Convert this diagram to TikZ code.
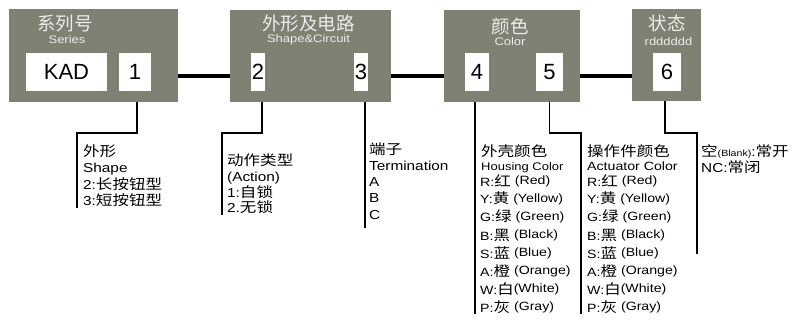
\documentclass[tikz,border=0pt]{standalone}
\usepackage{fontspec}
\setmainfont{Liberation Sans}[FakeStretch=1.18]
\newfontfamily\numfont{Liberation Sans}
\newfontfamily\cjk{Noto Sans CJK SC}[FakeStretch=1.18]
\newfontfamily\cjktitle{Noto Sans CJK SC}
\newcommand{\zh}[1]{{\cjk\fontsize{14}{14}\selectfont #1}}
\newcommand{\en}[1]{\raisebox{1.5pt}{#1}}
\definecolor{boxgray}{RGB}{128,128,115}
\definecolor{titlegray}{RGB}{236,236,236}

\begin{document}
\begin{tikzpicture}[x=1pt,y=-1pt,
  group/.style={fill=boxgray, inner sep=0pt},
  title/.style={text=titlegray, inner sep=0pt, font=\fontsize{18.5}{18.5}\cjktitle},
  sub/.style={text=titlegray, inner sep=0pt, font=\fontsize{11}{11}\selectfont},
  num/.style={fill=white, inner sep=0pt, minimum height=38pt, font=\fontsize{22}{22}\numfont},
  link/.style={line width=3.5pt},
  lead/.style={line width=1.6pt},
  item/.style={anchor=base west, inner sep=0pt, font=\fontsize{13}{13}\selectfont},
  row/.style={item, font=\fontsize{12}{12}\selectfont}]

\useasboundingbox (0,0) rectangle (791,320);

% groups
\node[group, minimum width=169pt, minimum height=93pt] (series) at (93.5,55.5) {};
\node[group, minimum width=161pt, minimum height=92pt] (shape) at (310.5,56) {};
\node[group, minimum width=136pt, minimum height=92pt] (color) at (512,56) {};
\node[group, minimum width=69pt, minimum height=92pt] (state) at (666.5,55) {};

\node[title] (seriesZh) at (65,24) {系列号};
\node[sub] (seriesEn) at (67,40) {Series};
\node[title] (shapeZh) at (308.5,24) {外形及电路};
\node[sub] (shapeEn) at (308.5,40) {Shape\&Circuit};
\node[title] (colorZh) at (510,26) {颜色};
\node[sub] (colorEn) at (510,42) {Color};
\node[title] (stateZh) at (667,23.5) {状态};
\node[sub] (stateEn) at (668.5,42) {rdddddd};

% code fields
\node[num, minimum width=81pt] (kad) at (66.5,72) {KAD};
\node[num, minimum width=32pt] (n1) at (135,72) {1};
\node[num, minimum width=14pt] (n2) at (258,72) {2};
\node[num, minimum width=14pt] (n3) at (361,72) {3};
\node[num, minimum width=24pt] (n4) at (477,72) {4};
\node[num, minimum width=27pt] (n5) at (549.5,72) {5};
\node[num, minimum width=28pt] (n6) at (667,72) {6};

\coordinate (bus) at (0,76);
\draw[link] (series.east |- bus) -- (shape.west |- bus);
\draw[link] (shape.east |- bus) -- (color.west |- bus);
\draw[link] (color.east |- bus) -- (state.west |- bus);

% lead lines
\coordinate (shapeEnd) at (77,208);
\coordinate (actionEnd) at (222,215);
\coordinate (termEnd) at (365,228);
\coordinate (houseEnd) at (475,314);
\coordinate (actEnd) at (581,314);
\coordinate (stateEnd) at (697,254);

\draw[lead] ([xshift=2pt]n1.south |- series.south) -- ++(0,31) -| (shapeEnd);
\draw[lead] ([xshift=4pt]n2.south |- shape.south) -- ++(0,31) -| (actionEnd);
\draw[lead] ([xshift=4pt]n3.south |- shape.south) -- (termEnd);
\draw[lead] ([xshift=-2pt]n4.south |- color.south) -- (houseEnd);
\draw[lead] (n5.south |- color.south) -- ++(0,31) -| (actEnd);
\draw[lead] ([xshift=-2pt]n6.south |- state.south) -- ++(0,32) -| (stateEnd);

% texts
\foreach \t [count=\i] in {{\zh{外形}}, Shape, 2:\zh{长按钮型}, 3:\zh{短按钮型}}
  \node[item] (shapeTxt\i) at (83,140+16.5*\i) {\t};

\foreach \t [count=\i] in {{\zh{动作类型}}, (Action), 1:\zh{自锁}, 2.\zh{无锁}}
  \node[item] (actionTxt\i) at (227,150.5+15.5*\i) {\t};

\foreach \t [count=\i] in {{\zh{端子}}, Termination, A, B, C}
  \node[item] (termTxt\i) at (369,138+16.2*\i) {\t};

\node[item] (houseZh) at (481,157) {\zh{外壳颜色}};
\node[item, font=\fontsize{11}{11}\selectfont] (houseEn) at (481,170.5) {Housing Color};
\node[item] (actZh) at (587,157) {\zh{操作件颜色}};
\node[item, font=\fontsize{12}{12}\selectfont] (actEn) at (587,171) {Actuator Color};

\foreach \t [count=\i] in {{R:\zh{红} \en{(Red)}}, {Y:\zh{黄} \en{(Yellow)}},
    {G:\zh{绿} \en{(Green)}}, {B:\zh{黑} \en{(Black)}}, {S:\zh{蓝} \en{(Blue)}},
    {A:\zh{橙} \en{(Orange)}}, {W:\zh{白}\en{(White)}}, {P:\zh{灰} \en{(Gray)}}} {
  \node[row] (house\i) at (480,168+18*\i) {\t};
  \node[row] (act\i) at (587,168+18*\i) {\t};
}

\node[item] (stateTxt1) at (701,157) {\zh{空}{\fontsize{9}{9}\selectfont(Blank)}:\zh{常开}};
\node[item] (stateTxt2) at (701,173) {NC:\zh{常闭}};

\end{tikzpicture}
\end{document}
